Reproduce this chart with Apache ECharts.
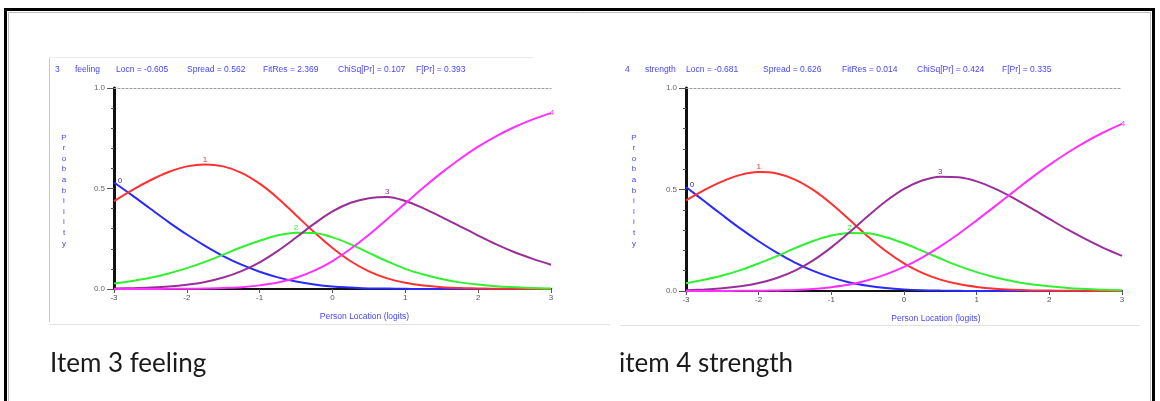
<!DOCTYPE html>
<html><head><meta charset="utf-8">
<script src="https://cdn.jsdelivr.net/npm/echarts@6.0.0/dist/echarts.min.js"></script>
<style>html,body{margin:0;padding:0;background:#fff}#c{width:1160px;height:401px}</style>
</head><body><div id="c"></div>
<script>
// Person location (logits) sample points
const personLocation = [-3,-2.75,-2.5,-2.25,-2,-1.75,-1.5,-1.25,-1,-0.75,-0.5,-0.25,0,0.25,0.5,0.75,1,1.25,1.5,1.75,2,2.25,2.5,2.75,3];

// Item 3 feeling: category probability curves
const item3Cat0 = [0.530,0.466,0.399,0.333,0.271,0.215,0.164,0.121,0.086,0.058,0.037,0.022,0.012,0.007,0.003,0.002,0.001,0,0,0,0,0,0,0,0];
const item3Cat1 = [0.437,0.492,0.541,0.582,0.610,0.620,0.610,0.578,0.524,0.452,0.367,0.282,0.204,0.138,0.088,0.053,0.031,0.017,0.009,0.005,0.003,0.001,0.001,0,0];
const item3Cat2 = [0.027,0.040,0.056,0.077,0.104,0.135,0.171,0.208,0.240,0.267,0.280,0.278,0.257,0.222,0.180,0.138,0.100,0.072,0.050,0.033,0.022,0.014,0.009,0.005,0.003];
const item3Cat3 = [0.002,0.004,0.007,0.012,0.021,0.035,0.057,0.089,0.133,0.190,0.256,0.325,0.386,0.429,0.452,0.458,0.438,0.401,0.358,0.312,0.266,0.222,0.183,0.150,0.121];
const item3Cat4 = [0,0,0,0.001,0.001,0.002,0.005,0.009,0.018,0.032,0.056,0.091,0.139,0.200,0.270,0.347,0.426,0.505,0.579,0.647,0.708,0.761,0.806,0.844,0.875];

// Item 4 strength: category probability curves
const item4Cat0 = [0.512,0.443,0.374,0.307,0.245,0.189,0.140,0.099,0.067,0.042,0.026,0.015,0.008,0.004,0.002,0.001,0,0,0,0,0,0,0,0,0];
const item4Cat1 = [0.446,0.497,0.540,0.572,0.586,0.579,0.549,0.498,0.430,0.351,0.270,0.197,0.136,0.089,0.056,0.034,0.020,0.011,0.006,0.003,0.002,0.001,0.001,0,0];
const item4Cat2 = [0.038,0.055,0.076,0.103,0.136,0.172,0.211,0.246,0.273,0.286,0.284,0.265,0.235,0.198,0.160,0.124,0.093,0.068,0.048,0.033,0.023,0.015,0.010,0.006,0.004];
const item4Cat3 = [0.004,0.008,0.013,0.023,0.039,0.064,0.100,0.151,0.215,0.289,0.368,0.442,0.503,0.544,0.563,0.560,0.540,0.504,0.459,0.408,0.355,0.303,0.255,0.211,0.173];
const item4Cat4 = [0,0,0,0.001,0.001,0.003,0.005,0.010,0.019,0.032,0.053,0.082,0.119,0.165,0.220,0.281,0.348,0.417,0.487,0.556,0.621,0.681,0.735,0.782,0.823];

const categoryLabels = ['0','1','2','3','4'];
const item3Header = ['3','feeling','Locn = -0.605','Spread = 0.562','FitRes = 2.369','ChiSq[Pr] = 0.107','F[Pr] = 0.393'];
const item4Header = ['4','strength','Locn = -0.681','Spread = 0.626','FitRes = 0.014','ChiSq[Pr] = 0.424','F[Pr] = 0.335'];
const captions = ['Item 3 feeling','item 4 strength'];
const xAxisTitle = 'Person Location (logits)';
const yAxisTitle = 'Probability';

// ---- layout / style ----
const curveColors = ['#2a2aff','#ff3030','#30f030','#9a2f9a','#ff30ff'];
const headerX = [[55,75,116,187,263,338,416],[625,645,686,763,842,917,1002]];
const grids = [
  {left:114, top:88, width:437, height:201},
  {left:686, top:88, width:436, height:203}
];
const yTitleX = [64, 634];
const captionX = [50, 619];

const chart = echarts.init(document.getElementById('c'), null, {renderer:'canvas'});

function makeSeries(values, k, gi) {
  const last = values.length - 1;
  let li;
  if (k === 0) li = 0;
  else if (k === 4) li = last;
  else li = values.indexOf(Math.max.apply(null, values));
  const lab = {show:true, position:'top', distance:1, color:curveColors[k], fontSize:8, fontFamily:'Liberation Sans'};
  if (k === 0) lab.offset = [6, 3];
  if (k === 4) lab.offset = [1, 5];
  return {
    type:'line', xAxisIndex: gi*2, yAxisIndex: gi, smooth:0.35,
    symbol:'circle', symbolSize:0, showSymbol:true, showAllSymbol:true,
    lineStyle:{color:curveColors[k], width:2}, itemStyle:{color:curveColors[k]},
    emphasis:{disabled:true}, silent:true, clip:false,
    data: values.map((v,i)=>{
      const d = {value:[personLocation[i], v]};
      if (i === li) d.label = Object.assign({formatter: categoryLabels[k]}, lab);
      return d;
    })
  };
}

const curves = [[item3Cat0,item3Cat1,item3Cat2,item3Cat3,item3Cat4],[item4Cat0,item4Cat1,item4Cat2,item4Cat3,item4Cat4]];
const series = [];
curves.forEach((set, gi)=> set.forEach((vals,k)=> series.push(makeSeries(vals,k,gi))));

const xAxes = [], yAxes = [];
grids.forEach((g, gi)=>{
  xAxes.push({
    gridIndex:gi, type:'value', min:-3, max:3, interval:1, position:'bottom',
    axisLine:{show:true, onZero:false, lineStyle:{color:'#111', width:2}},
    axisTick:{show:true, length:4, lineStyle:{color:'#555'}},
    axisLabel:{fontSize:8, color:'#555', margin:5, fontFamily:'Liberation Sans'},
    splitLine:{show:false}
  });
  xAxes.push({
    gridIndex:gi, type:'value', min:-3, max:3, position:'top',
    axisLine:{show:true, onZero:false, lineStyle:{color:'#999', width:1, type:[2,2]}},
    axisTick:{show:false}, axisLabel:{show:false}, splitLine:{show:false}
  });
  yAxes.push({
    gridIndex:gi, type:'value', min:0, max:1, interval:0.5,
    axisLine:{show:true, onZero:false, lineStyle:{color:'#111', width:3}},
    axisTick:{show:true, length:7, lineStyle:{color:'#555'}},
    minorTick:{show:true, splitNumber:5, length:3, lineStyle:{color:'#555'}},
    axisLabel:{fontSize:8, color:'#666', margin:9, fontFamily:'Liberation Sans', formatter:v=>v.toFixed(1)},
    splitLine:{show:false}
  });
});

const graphic = [];
// outer frame
graphic.push({type:'rect', shape:{x:5.5, y:9.5, width:1148, height:430}, style:{fill:'none', stroke:'#000', lineWidth:3}, silent:true});
graphic.push({type:'rect', shape:{x:8.5, y:12.5, width:1142, height:430}, style:{fill:'none', stroke:'#bbb', lineWidth:1}, silent:true});
// panel borders
graphic.push({type:'line', shape:{x1:49.5, y1:57, x2:49.5, y2:322}, style:{stroke:'#c8c8c8', lineWidth:1}, silent:true});
graphic.push({type:'line', shape:{x1:49, y1:57.5, x2:533, y2:57.5}, style:{stroke:'#ececec', lineWidth:1}, silent:true});
graphic.push({type:'line', shape:{x1:49, y1:324.5, x2:610, y2:324.5}, style:{stroke:'#e2e2e2', lineWidth:1}, silent:true});
graphic.push({type:'line', shape:{x1:620, y1:325.5, x2:1140, y2:325.5}, style:{stroke:'#e2e2e2', lineWidth:1}, silent:true});

[item3Header, item4Header].forEach((hdr, gi)=>{
  hdr.forEach((t, j)=>{
    graphic.push({type:'text', x:headerX[gi][j], y:70, silent:true,
      style:{text:t, fill:'#4646ff', fontSize:8.5, fontFamily:'Liberation Sans', textVerticalAlign:'middle'}});
  });
  const g = grids[gi];
  graphic.push({type:'text', x:g.left + g.width/2 + 32, y:g.top + g.height + 28, silent:true,
    style:{text:xAxisTitle, fill:'#4646ff', fontSize:8.5, fontFamily:'Liberation Sans', textAlign:'center', textVerticalAlign:'middle'}});
  graphic.push({type:'text', x:yTitleX[gi], y:132, silent:true,
    style:{text:yAxisTitle.split('').join('\n'), fill:'#4646ff', fontSize:8, lineHeight:10.6, fontFamily:'Liberation Sans', textAlign:'center', textVerticalAlign:'top'}});
  graphic.push({type:'text', x:captionX[gi], y:364, silent:true,
    style:{text:captions[gi], fill:'#1a1a1a', fontSize:26, fontFamily:'Lato', textVerticalAlign:'middle'}});
});

chart.setOption({
  animation:false,
  backgroundColor:'#fff',
  grid: grids.map(g=>Object.assign({containLabel:false}, g)),
  xAxis: xAxes, yAxis: yAxes,
  series: series,
  graphic: graphic
});
</script></body></html>
